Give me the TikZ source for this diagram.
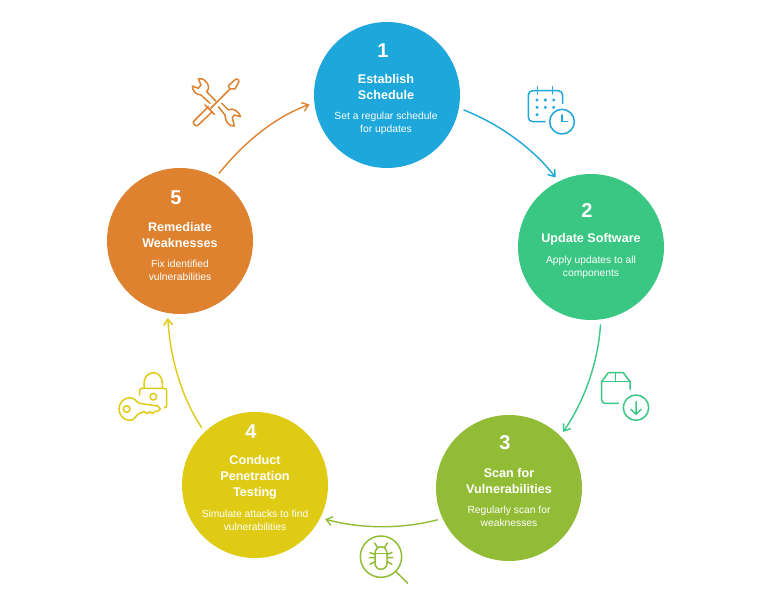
\documentclass[tikz,border=0pt]{standalone}
\usepackage{fontspec}
\setmainfont{Liberation Sans}
\usetikzlibrary{arrows.meta}
\definecolor{cblue}{HTML}{1DA7DA}
\definecolor{cgreen}{HTML}{3AC783}
\definecolor{clime}{HTML}{93BC36}
\definecolor{cyel}{HTML}{E0CB14}
\definecolor{corg}{HTML}{DE8230}
\tikzset{
  disc/.style={circle,fill=#1,minimum size=146pt,inner sep=0pt,outer sep=5pt},
  numlab/.style={text=white,font=\fontsize{20}{20}\selectfont\bfseries,inner sep=0pt},
  titlelab/.style={text=white,font=\fontsize{12.6}{16}\selectfont\bfseries,align=center,inner sep=0pt},
  desclab/.style={text=white,font=\fontsize{10.3}{13}\selectfont,align=center,inner sep=0pt},
  link/.style={draw=#1,line width=1.4pt,looseness=0.85,-{Straight Barb[length=6pt,width=9pt,line width=1.4pt]}},
  icon/.style={draw=#1,line width=1.5pt,line cap=round,line join=round},
  zoomed/.style={x=0.33333pt,y=-0.33333pt}
}
\begin{document}
\begin{tikzpicture}[x=1pt,y=1pt]
\useasboundingbox (0,0) rectangle (768,600);
\fill[white] (0,0) rectangle (768,600);
\node[disc=cblue] (n1) at (387,505) {};
\node[disc=cgreen] (n2) at (591,353) {};
\node[disc=clime] (n3) at (509,112) {};
\node[disc=cyel] (n4) at (255,115) {};
\node[disc=corg] (n5) at (180,359) {};

\node[numlab] (a1) at (383,549.5) {1};
\node[titlelab] (b1) at (386,512.5) {Establish\\Schedule};
\node[desclab] (c1) at (386,476.5) {Set a regular schedule\\for updates};

\node[numlab] (a2) at (587,389.5) {2};
\node[titlelab] (b2) at (591,360.5) {Update Software};
\node[desclab] (c2) at (591,332.5) {Apply updates to all\\components};

\node[numlab] (a3) at (505,157.5) {3};
\node[titlelab] (b3) at (509,119.5) {Scan for\\Vulnerabilities};
\node[desclab] (c3) at (509,83.5) {Regularly scan for\\weaknesses};

\node[numlab] (a4) at (251,168.5) {4};
\node[titlelab] (b4) at (255,122.5) {Conduct\\Penetration\\Testing};
\node[desclab] (c4) at (255,79.5) {Simulate attacks to find\\vulnerabilities};

\node[numlab] (a5) at (176,402.5) {5};
\node[titlelab] (b5) at (180,365.5) {Remediate\\Weaknesses};
\node[desclab] (c5) at (180,329.5) {Fix identified\\vulnerabilities};

\draw[link=cblue] (n1.-11) to[out=-21.6,in=127.8] (n2.117.6);
\draw[link=cgreen] (n2.-83) to[out=-93.5,in=55.6] (n3.46);
\draw[link=clime] (n3.204) to[out=-165.3,in=-15.1] (n4.-26);
\draw[link=cyel] (n4.133) to[out=123.4,in=273.2] (n5.261);
\draw[link=corg] (n5.60) to[out=51.3,in=199.6] (n1.187.6);

% calendar
\begin{scope}[shift={(500,530)},zoomed]
\draw[icon=cblue] (135,155) -- (98,155) to[out=180,in=-90] (85,142) -- (85,75) to[out=90,in=180] (98,62) -- (175,62) to[out=0,in=90] (188,75) -- (188,100);
\draw[icon=cblue] (113,50) -- (113,72) (158,50) -- (158,72);
\foreach \p in {(111,90),(136,90),(161,90),(111,112),(136,112),(161,112),(111,134)}
  \fill[cblue] \p circle[radius=5];
\draw[icon=cblue] (186,155) circle[radius=37];
\draw[icon=cblue] (186,135) -- (186,155) -- (203,155);
\end{scope}
% box
\begin{scope}[shift={(580,240)},zoomed]
\draw[icon=cgreen] (115,130) -- (75,130) to[out=180,in=-90] (65,120) -- (65,65) -- (85,38) -- (130,38) -- (150,65) -- (150,88);
\draw[icon=cgreen] (65,65) -- (150,65) (107,38) -- (107,65);
\draw[icon=cgreen] (168,143) circle[radius=38];
\draw[icon=cgreen] (168,125) -- (168,163) (153,148) -- (168,163) -- (183,148);
\end{scope}
% bug
\begin{scope}[shift={(340,75)},zoomed]
\draw[icon=clime] (123,95) circle[radius=62];
\draw[icon=clime] (168,140) -- (203,175);
\draw[icon=clime] (105,85) to[out=90,in=180] (123,65) to[out=0,in=90] (141,85) -- (141,115) to[out=-90,in=0] (123,133) to[out=180,in=-90] (105,115) -- cycle;
\draw[icon=clime] (105,85) -- (141,85);
\draw[icon=clime] (112,67) -- (104,54) (134,67) -- (142,54);
\draw[icon=clime] (105,98) -- (88,98) (105,88) -- (90,83) (105,110) -- (90,118);
\draw[icon=clime] (141,98) -- (158,98) (141,88) -- (156,83) (141,110) -- (156,118);
\end{scope}
% lock and key
\begin{scope}[shift={(105,240)},zoomed]
\draw[icon=cyel] (104,105) -- (104,92) to[out=90,in=180] (110,85) -- (178,85) to[out=0,in=90] (185,92) -- (185,135) to[out=-90,in=0] (178,143);
\draw[icon=cyel] (117,84) -- (117,70) to[out=90,in=180] (145,38) to[out=0,in=90] (172,70) -- (172,84);
\draw[icon=cyel] (145,110) circle[radius=10];
\draw[icon=cyel] (65,147) circle[radius=10];
\draw[icon=cyel] (103,130) -- (158,138) -- (166,147) -- (158,154) -- (150,154) -- (143,161) -- (135,155) -- (127,161) -- (118,155) -- (103,160);
\draw[icon=cyel] (103,130) to[out=150,in=0] (75,113) to[out=180,in=90] (42,147) to[out=-90,in=180] (75,181) to[out=0,in=210] (103,160);
\end{scope}
% tools
\begin{scope}[shift={(175,535)},zoomed]
\draw[icon=corg] (100,125) -- (55,170) to[out=-135,in=135] (62,182) to[out=-45,in=-135] (72,178) -- (112,140);
\draw[icon=corg] (90,120) -- (118,148);
\draw[icon=corg] (105,132) -- (165,72);
\draw[icon=corg] (165,72) -- (160,62) -- (183,42) to[out=20,in=70] (192,50) -- (180,72) -- (165,72);
\draw[icon=corg] (122,108) -- (95,80) to[out=45,in=-70] (100,62) to[out=110,in=20] (70,42) -- (78,60) -- (70,70) -- (52,63) to[out=-90,in=180] (78,90) -- (105,115);
\draw[icon=corg] (140,115) -- (160,135) to[out=30,in=110] (197,155) -- (178,150) -- (172,158) -- (178,183) to[out=190,in=-90] (150,150) -- (130,125);
\end{scope}
\end{tikzpicture}
\end{document}
